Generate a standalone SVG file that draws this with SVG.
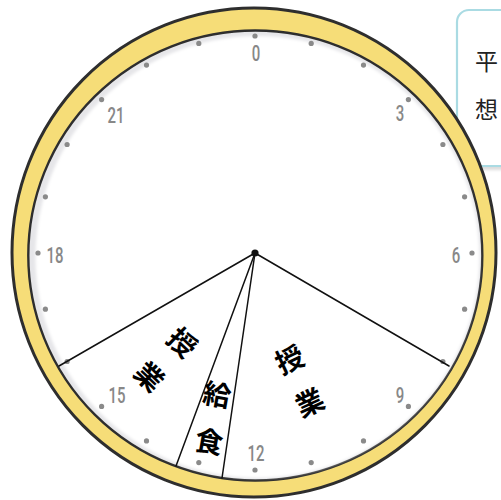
<svg xmlns="http://www.w3.org/2000/svg" width="501" height="500" viewBox="0 0 501 500">
  <defs>
    <filter id="soft" x="-10%" y="-10%" width="120%" height="120%">
      <feGaussianBlur stdDeviation="1.5"/>
    </filter>
    <filter id="shadowBlur" x="-20%" y="-20%" width="140%" height="140%">
      <feGaussianBlur stdDeviation="1.5"/>
    </filter>
  </defs>
  <style>
    .num { font-family: Roboto, "Liberation Sans", sans-serif; font-size: 22px; font-weight: 500; fill: #888; text-anchor: middle; }
    .dot { fill: #8a8a8a; }
    .sec { stroke: #111; stroke-width: 1.5; fill: none; stroke-linecap: round; }
    .lbl { font-family: "Noto Sans CJK JP", "Noto Sans CJK SC", sans-serif; font-size: 28px; font-weight: 700; fill: #000; text-anchor: middle; }
    .note { font-family: "Noto Sans CJK JP", "Noto Sans CJK SC", sans-serif; font-size: 23px; fill: #222; }
  </style>
  <rect width="501" height="500" fill="#fff"/>

  <g id="note-box">
    <rect x="459" y="13" width="70" height="157" rx="12" fill="#dcdcdc" filter="url(#shadowBlur)"/>
    <rect x="457" y="10" width="70" height="156" rx="12" fill="#fff" stroke="#aadbe3" stroke-width="2.2"/>
    <text class="note" x="475" y="70">平</text>
    <text class="note" x="475" y="118">想</text>
  </g>

  <g id="clock-face">
    <ellipse cx="254" cy="252.5" rx="242" ry="244.5" fill="#f6dd78" stroke="#2e2e2e" stroke-width="3"/>
    <ellipse cx="255.3" cy="255.5" rx="227" ry="225" fill="#e6e6e9" stroke="#2e2e2e" stroke-width="2.4"/>
    <ellipse cx="257.5" cy="257" rx="222" ry="221" fill="#fff" filter="url(#soft)"/>
  </g>

  <g id="hour-dots">
    <circle class="dot" cx="255" cy="36" r="2.6"/>
    <circle class="dot" cx="311.2" cy="43.4" r="2.6"/>
    <circle class="dot" cx="363.5" cy="65.1" r="2.6"/>
    <circle class="dot" cx="408.4" cy="99.6" r="2.6"/>
    <circle class="dot" cx="442.9" cy="144.5" r="2.6"/>
    <circle class="dot" cx="464.6" cy="196.8" r="2.6"/>
    <circle class="dot" cx="472" cy="253" r="2.6"/>
    <circle class="dot" cx="464.6" cy="309.2" r="2.6"/>
    <circle class="dot" cx="442.9" cy="361.5" r="2.6"/>
    <circle class="dot" cx="408.4" cy="406.4" r="2.6"/>
    <circle class="dot" cx="363.5" cy="440.9" r="2.6"/>
    <circle class="dot" cx="311.2" cy="462.6" r="2.6"/>
    <circle class="dot" cx="255" cy="470" r="2.6"/>
    <circle class="dot" cx="198.8" cy="462.6" r="2.6"/>
    <circle class="dot" cx="146.5" cy="440.9" r="2.6"/>
    <circle class="dot" cx="101.6" cy="406.4" r="2.6"/>
    <circle class="dot" cx="67.1" cy="361.5" r="2.6"/>
    <circle class="dot" cx="45.4" cy="309.2" r="2.6"/>
    <circle class="dot" cx="38" cy="253" r="2.6"/>
    <circle class="dot" cx="45.4" cy="196.8" r="2.6"/>
    <circle class="dot" cx="67.1" cy="144.5" r="2.6"/>
    <circle class="dot" cx="101.6" cy="99.6" r="2.6"/>
    <circle class="dot" cx="146.5" cy="65.1" r="2.6"/>
    <circle class="dot" cx="198.8" cy="43.4" r="2.6"/>
  </g>

  <g id="hour-numbers">
    <text class="num" transform="translate(256 61) scale(0.68 1)">0</text>
    <text class="num" transform="translate(400 121) scale(0.68 1)">3</text>
    <text class="num" transform="translate(456 263) scale(0.68 1)">6</text>
    <text class="num" transform="translate(400 403) scale(0.68 1)">9</text>
    <text class="num" transform="translate(256 461) scale(0.68 1)">12</text>
    <text class="num" transform="translate(117 403) scale(0.68 1)">15</text>
    <text class="num" transform="translate(55 263) scale(0.68 1)">18</text>
    <text class="num" transform="translate(116 123) scale(0.68 1)">21</text>
  </g>

  <g id="connectors">
    <line class="sec" x1="255" y1="253" x2="449" y2="366"/>
    <line class="sec" x1="255" y1="253" x2="59" y2="366"/>
    <line class="sec" x1="255" y1="253" x2="176" y2="466"/>
    <line class="sec" x1="255" y1="253" x2="222" y2="478"/>
    <circle cx="255" cy="253" r="3.6" fill="#111"/>
  </g>

  <g id="label-left">
    <text class="lbl" transform="translate(182 343) rotate(44)" y="10">授</text>
    <text class="lbl" transform="translate(149 377) rotate(44)" y="10">業</text>
  </g>
  <g id="label-lunch">
    <text class="lbl" transform="translate(217 395) rotate(10)" y="10">給</text>
    <text class="lbl" transform="translate(209 442) rotate(10)" y="10">食</text>
  </g>
  <g id="label-right">
    <text class="lbl" transform="translate(290 360) rotate(-25)" y="10">授</text>
    <text class="lbl" transform="translate(310 403) rotate(-25)" y="10">業</text>
  </g>
</svg>
